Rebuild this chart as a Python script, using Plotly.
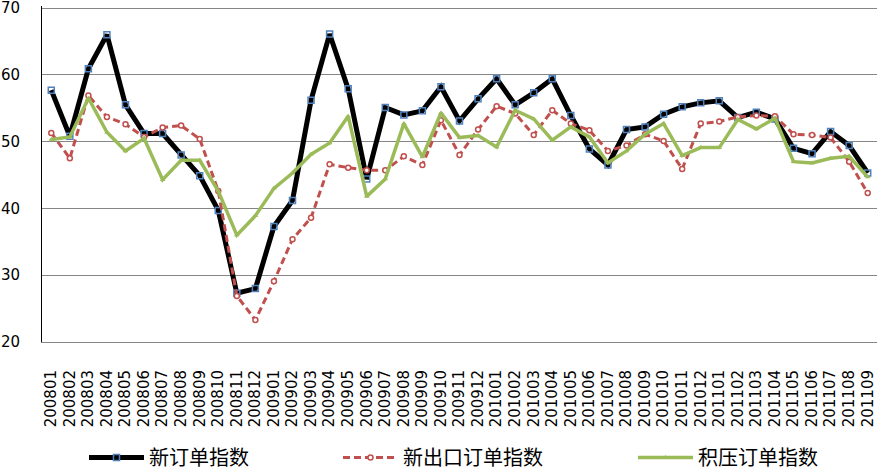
import plotly.graph_objects as go

months = ["200801","200802","200803","200804","200805","200806","200807","200808","200809","200810","200811","200812",
          "200901","200902","200903","200904","200905","200906","200907","200908","200909","200910","200911","200912",
          "201001","201002","201003","201004","201005","201006","201007","201008","201009","201010","201011","201012",
          "201101","201102","201103","201104","201105","201106","201107","201108","201109"]

new_orders = [57.7, 50.8, 60.9, 66.0, 55.5, 51.2, 51.2, 48.0, 44.9, 39.7, 27.3, 28.0,
              37.3, 41.2, 56.2, 66.1, 57.9, 44.4, 55.1, 54.0, 54.6, 58.2, 53.1, 56.4,
              59.4, 55.5, 57.3, 59.4, 53.9, 48.9, 46.5, 51.8, 52.2, 54.1, 55.2, 55.8,
              56.1, 53.6, 54.4, 53.4, 49.0, 48.2, 51.5, 49.4, 45.3]

new_export_orders = [51.3, 47.5, 56.9, 53.7, 52.6, 50.7, 52.1, 52.4, 50.4, 42.6, 26.9, 23.3,
                     29.1, 35.4, 38.6, 46.6, 46.1, 45.7, 45.7, 47.8, 46.5, 53.2, 48.0, 51.8,
                     55.3, 54.2, 51.0, 54.7, 52.7, 51.7, 48.6, 49.4, 51.1, 50.1, 45.9, 52.7,
                     53.0, 53.7, 53.9, 53.8, 51.1, 51.0, 50.6, 47.0, 42.3]

backlog_orders = [50.3, 50.7, 56.5, 51.4, 48.6, 50.5, 44.3, 47.2, 47.2, 42.6, 36.0, 38.9,
                  43.0, 45.3, 48.1, 49.8, 53.8, 41.8, 44.4, 52.7, 47.7, 54.3, 50.6, 50.9,
                  49.2, 54.7, 53.4, 50.2, 52.2, 50.7, 46.8, 48.6, 51.1, 52.7, 47.9, 49.1,
                  49.1, 53.3, 51.9, 53.5, 47.0, 46.8, 47.5, 47.8, 44.7]

series_names = ["新订单指数", "新出口订单指数", "积压订单指数"]
y_ticks = [20, 30, 40, 50, 60, 70]

W, H = 877, 468
cjk = "Noto Sans CJK SC, sans-serif"
legend_font = dict(family=cjk, size=20, color="black")

fig = go.Figure()
fig.add_trace(go.Scatter(
    x=months, y=new_orders, name=series_names[0], mode="lines+markers",
    line=dict(color="black", width=5),
    marker=dict(symbol="square-open", size=6, color="#4F81BD", line=dict(width=1.5, color="#4F81BD")),
    legend="legend"))
fig.add_trace(go.Scatter(
    x=months, y=new_export_orders, name=series_names[1], mode="lines+markers",
    line=dict(color="#C0504D", width=3, dash="7px,4px"),
    marker=dict(symbol="circle", size=5, color="white", line=dict(width=1.5, color="#C0504D")),
    legend="legend2"))
fig.add_trace(go.Scatter(
    x=months, y=backlog_orders, name=series_names[2], mode="lines+markers",
    line=dict(color="#9BBB59", width=3.5),
    marker=dict(symbol="triangle-up", size=5, color="#9BBB59"),
    legend="legend3"))

def leg(xpx):
    return dict(xref="container", yref="container", x=xpx / W, y=1 - 438 / H,
                xanchor="left", yanchor="top", orientation="h",
                font=legend_font, bgcolor="rgba(0,0,0,0)", itemwidth=55,
                tracegroupgap=0)

fig.update_layout(
    width=W, height=H,
    margin=dict(l=42, r=0, t=6, b=126),
    plot_bgcolor="white", paper_bgcolor="white",
    showlegend=True,
    legend=leg(84), legend2=leg(338), legend3=leg(633),
    xaxis=dict(
        type="category", range=[-0.5, len(months) - 0.5],
        tickangle=-90, tickfont=dict(family="DejaVu Sans", size=15, color="black"),
        showgrid=False, showline=True, linecolor="#868686", linewidth=1,
        ticks="", ticklabelstandoff=21, automargin=False,
    ),
    yaxis=dict(
        range=[20, 70.3], tickvals=y_ticks, showgrid=True, gridcolor="#868686", gridwidth=1,
        zeroline=False, showline=True, linecolor="black", linewidth=1,
        tickfont=dict(family="DejaVu Sans", size=15, color="black"),
        ticks="", ticklabelstandoff=18, automargin=False, ticklabeloverflow="allow",
    ),
)

fig.write_html("out.html", post_script="document.body.style.margin='0';",
               config={"displayModeBar": False})
